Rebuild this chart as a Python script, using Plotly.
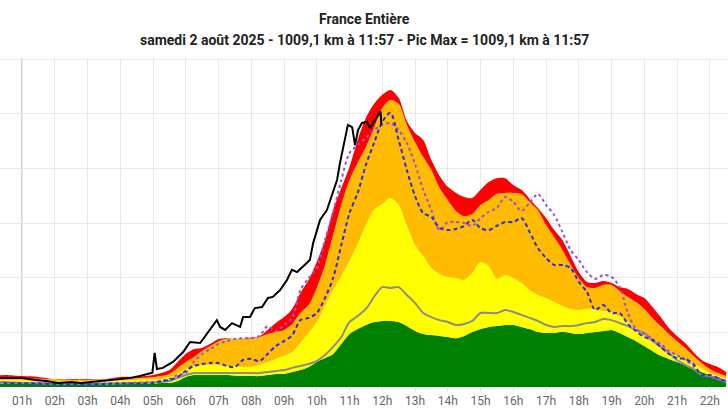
import plotly.graph_objects as go

# ---- time grid (hours) ----
hours = [0, 0.5, 1, 1.5, 2, 2.5, 3, 3.5, 4, 4.5] + [5 + i * 0.25 for i in range(71)]

# ---- stacked bands (cumulative top of each band, km) ----
green_top = [12, 12, 11, 11, 10, 10, 10, 10, 11, 12,
             13, 15, 15, 22, 37, 44, 44, 44, 44, 44, 42, 40, 40, 40, 44, 48,
             48, 55, 62, 73, 92, 106, 121, 158, 194, 212, 227, 238, 242, 242, 238, 223,
             205, 194, 190, 187, 183, 179, 187, 201, 212, 220, 223, 227, 227, 220, 212, 201,
             198, 198, 201, 198, 194, 198, 201, 205, 209, 198, 183, 168, 150, 132, 114, 103,
             92, 81, 70, 55, 44, 33, 22]
yellow_top = [26, 26, 25, 24, 22, 22, 22, 22, 24, 26,
              28, 29, 37, 48, 66, 77, 81, 81, 81, 77, 77, 73, 73, 81, 92, 103,
              114, 128, 161, 198, 238, 297, 355, 407, 462, 524, 593, 648, 670, 692, 667, 593,
              520, 480, 436, 414, 403, 399, 392, 418, 458, 443, 396, 410, 399, 381, 355, 337,
              326, 311, 297, 286, 282, 286, 286, 278, 275, 260, 238, 212, 187, 161, 143, 128,
              114, 99, 84, 70, 51, 40, 29]
orange_top = [36, 35, 33, 30, 29, 28, 28, 29, 31, 33,
              36, 40, 48, 70, 92, 110, 132, 150, 168, 176, 176, 176, 179, 183, 194, 201,
              209, 231, 271, 300, 363, 447, 557, 667, 758, 821, 879, 949, 1022, 1051, 1037, 960,
              897, 842, 795, 729, 685, 645, 626, 634, 667, 685, 707, 711, 711, 707, 678, 648,
              593, 549, 502, 447, 399, 366, 363, 374, 374, 352, 330, 311, 286, 253, 223, 194,
              168, 143, 114, 88, 66, 51, 40]
red_top = [40, 44, 40, 37, 29, 26, 26, 29, 37, 37,
           44, 51, 62, 92, 121, 139, 143, 158, 176, 179, 177, 177, 181, 186, 209, 234,
           256, 286, 344, 392, 458, 538, 648, 729, 806, 905, 985, 1037, 1070, 1088, 1059, 974,
           930, 905, 831, 773, 733, 711, 696, 692, 722, 751, 765, 765, 740, 722, 689, 656,
           619, 575, 538, 480, 421, 385, 381, 388, 381, 366, 359, 341, 326, 293, 256, 216,
           187, 161, 128, 99, 84, 73, 55]

# ---- lines (km) ----
grey_line = [18, 17, 15, 14, 12, 11, 11, 12, 13, 15,
             17, 18, 22, 33, 44, 51, 51, 51, 51, 51, 51, 51, 51, 51, 55, 59,
             62, 70, 77, 84, 95, 117, 147, 183, 238, 260, 286, 330, 366, 363, 366, 337,
             308, 271, 256, 245, 238, 227, 231, 242, 271, 271, 271, 282, 275, 264, 253, 242,
             227, 220, 223, 223, 227, 234, 238, 249, 245, 234, 223, 209, 198, 172, 147, 125,
             99, 81, 66, 44, 40, 29, 18]
blue_dashed = [14, 14, 13, 12, 11, 10, 10, 11, 12, 13,
               14, 22, 26, 37, 59, 77, 84, 88, 88, 77, 73, 99, 103, 95, 121, 150,
               168, 190, 245, 253, 271, 326, 399, 520, 637, 711, 813, 894, 971, 1004, 905, 795,
               700, 637, 623, 582, 575, 579, 590, 612, 582, 575, 590, 604, 604, 619, 568, 509,
               473, 447, 447, 436, 385, 348, 282, 300, 271, 271, 231, 205, 183, 172, 147, 121,
               106, 103, 84, 44, 44, 33, 18]
purple_dotted = [17, 16, 15, 14, 13, 12, 12, 13, 14, 16,
                 18, 22, 29, 44, 51, 92, 121, 139, 158, 168, 176, 179, 179, 187, 223, 205,
                 227, 253, 355, 399, 436, 538, 641, 758, 857, 886, 912, 941, 960, 967, 941, 894,
                 817, 722, 648, 575, 604, 604, 601, 590, 619, 641, 656, 696, 678, 645, 674, 707,
                 667, 630, 568, 502, 465, 421, 396, 410, 403, 366, 271, 212, 194, 176, 158, 132,
                 117, 99, 77, 44, 37, 33, 22]

black_hours = [0, 0.33, 1.0, 1.4, 1.75, 2.1, 2.5, 2.8, 3.4, 3.9, 4.3, 4.6, 4.85, 4.98, 5.05,
               5.12, 5.3, 5.61, 5.92, 6.13, 6.44, 6.65, 6.8, 6.95, 7.05, 7.2, 7.41, 7.66, 7.75,
               7.96, 8.11, 8.33, 8.51, 8.66, 8.88, 9.09, 9.24, 9.4, 9.58, 9.79, 9.89, 10.1,
               10.31, 10.5, 10.62, 10.71, 10.86, 10.95, 11.08, 11.17, 11.26, 11.38, 11.53,
               11.63, 11.72, 11.84, 11.95, 11.97]
black_actual = [33, 33, 33, 26, 22, 15, 18, 15, 22, 26, 33, 40, 48, 52, 125,
                66, 70, 92, 128, 165, 161, 198, 220, 245, 220, 209, 234, 220, 256,
                256, 289, 293, 326, 330, 355, 392, 429, 421, 440, 465, 527, 612,
                648, 711, 758, 821, 916, 960, 952, 886, 941, 967, 971,
                949, 967, 989, 1009, 960]

tick_vals = list(range(1, 23))
tick_text = ["01h", "02h", "03h", "04h", "05h", "06h", "07h", "08h", "09h", "10h", "11h",
             "12h", "13h", "14h", "15h", "16h", "17h", "18h", "19h", "20h", "21h", "22h"]

title_line1 = "France Entière"
title_line2 = "samedi 2 août 2025 - 1009,1 km à 11:57 - Pic Max = 1009,1 km à 11:57"

fig = go.Figure()

bands = [
    (green_top, "#008000", "tozeroy"),
    (yellow_top, "#ffff00", "tonexty"),
    (orange_top, "#ffbb00", "tonexty"),
    (red_top, "#ff0000", "tonexty"),
]
for vals, col, fill in bands:
    fig.add_trace(go.Scatter(x=hours, y=vals, mode="lines", fill=fill, fillcolor=col,
                             line=dict(width=0, color=col, shape="spline", smoothing=0.8),
                             hoverinfo="skip", showlegend=False))

fig.add_trace(go.Scatter(x=hours, y=grey_line, mode="lines",
                         line=dict(color="#8c8c8c", width=2, shape="spline", smoothing=0.8),
                         showlegend=False))
fig.add_trace(go.Scatter(x=hours, y=purple_dotted, mode="lines",
                         line=dict(color="#9a4fe0", width=2, dash="dot", shape="spline", smoothing=0.8),
                         showlegend=False))
fig.add_trace(go.Scatter(x=hours, y=blue_dashed, mode="lines",
                         line=dict(color="#2a2aee", width=2, dash="4px,3px", shape="spline", smoothing=0.8),
                         showlegend=False))
fig.add_trace(go.Scatter(x=black_hours, y=black_actual, mode="lines",
                         line=dict(color="#000000", width=2),
                         showlegend=False))

fig.add_shape(type="line", xref="x", yref="paper", x0=1, x1=1, y0=0, y1=1,
              line=dict(color="#c8c8c8", width=1.5), layer="below")

title_font = dict(family="Roboto", size=14, color="#222222", weight="bold")
fig.add_annotation(text=title_line1, xref="paper", yref="paper", x=0.5, y=(387 - 19) / 329,
                   xanchor="center", yanchor="middle", showarrow=False, font=title_font)
fig.add_annotation(text=title_line2, xref="paper", yref="paper", x=0.5, y=(387 - 40) / 329,
                   xanchor="center", yanchor="middle", showarrow=False, font=title_font)

fig.update_layout(
    width=728, height=409,
    margin=dict(l=0, r=0, t=58, b=22),
    paper_bgcolor="white", plot_bgcolor="white",
    font=dict(family="Roboto"),
)
fig.update_xaxes(range=[0.328, 22.557], tickvals=tick_vals, ticktext=tick_text,
                 showgrid=True, gridcolor="#e8e8e8", gridwidth=1,
                 ticks="outside", ticklen=3, tickcolor="#dddddd",
                 tickfont=dict(family="Roboto", size=12, color="#666666"),
                 zeroline=False, showline=False)
fig.update_yaxes(range=[0, 1205], dtick=200, showticklabels=False,
                 showgrid=True, gridcolor="#e8e8e8", gridwidth=1,
                 zeroline=False, showline=False)

fig.write_html("out.html")
